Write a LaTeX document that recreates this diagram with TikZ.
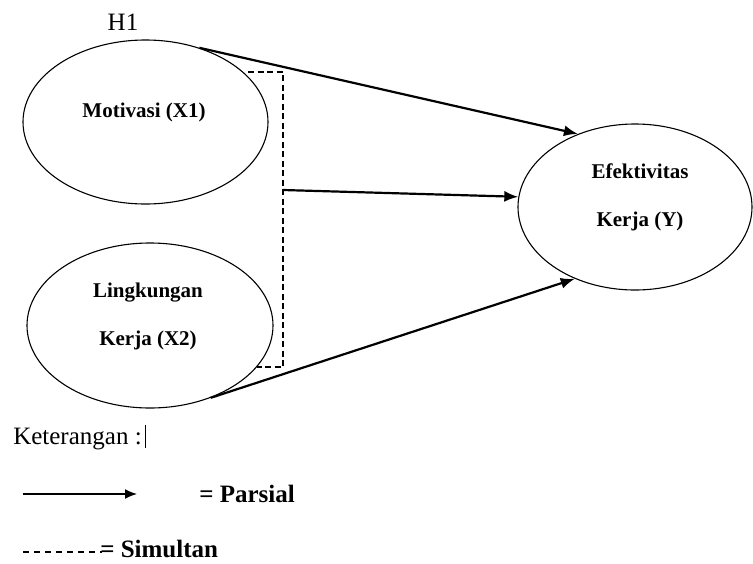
\documentclass[tikz,border=0pt]{standalone}
\usepackage{fontspec}
\setmainfont{Liberation Serif}
\usetikzlibrary{shapes,arrows.meta}

\begin{document}
\begin{tikzpicture}[x=1pt, y=-1pt, semithick, >={Latex[length=14pt,width=11pt]},
  var/.style={draw,ellipse,line width=1.1pt,minimum width=245pt,minimum height=164pt,inner sep=0pt},
  lbl/.style={inner sep=0pt,align=center,font=\fontsize{21}{48}\selectfont\bfseries},
  txt/.style={inner sep=0pt,font=\fontsize{25}{30}\selectfont},
  arr/.style={->,line width=2.2pt},
  simul/.style={dashed,line width=2pt,dash pattern=on 6pt off 3.5pt}]
  \useasboundingbox (0,0) rectangle (753,563);
  \node [var] (x1) at (145.5,122) {};
  \node [var,minimum width=246pt,minimum height=165pt] (x2) at (150,325.5) {};
  \node [var,minimum width=234pt,minimum height=166pt] (y) at (635,207) {};
  \node [lbl,anchor=base] (x1t) at (144,117) {Motivasi (X1)};
  \node [lbl,anchor=base] (x2t) at (148,345) {Lingkungan\\Kerja (X2)};
  \node [lbl,anchor=base] (yt) at (640,226) {Efektivitas\\Kerja (Y)};
  \node [txt,anchor=base] (h1) at (123,30) {H1};
  % simultan bracket
  \coordinate (st) at (248,72);
  \coordinate (sm) at (283,190);
  \coordinate (sb) at (257,367);
  \draw [simul] (st) -- (st -| sm) -- (sb -| sm) -- (sb);
  \path [arr] (x1.54) edge (y.128);
  \path [arr] (sm) edge (y.175);
  \path [arr] (x2.310) edge (y.230);
  % keterangan
  \node [txt,anchor=base west] (ket) at (13,444) {Keterangan :\hspace{3pt}\rule[-4pt]{0.8pt}{23pt}};
  \coordinate (pa) at (23,494);
  \coordinate (pb) at (137,494);
  \draw [->,line width=1.6pt,>={Latex[length=12pt,width=10pt]}] (pa) -- (pb);
  \node [txt,font=\fontsize{25}{30}\selectfont\bfseries,anchor=base west] (par) at (199,502) {= Parsial};
  \coordinate (sa) at (23,552);
  \coordinate (sz) at (102,552);
  \draw [line width=1.2pt,dash pattern=on 6pt off 5pt] (sa) -- (sz);
  \node [txt,font=\fontsize{25}{30}\selectfont\bfseries,anchor=base west] (sim) at (100,557) {= Simultan};
\end{tikzpicture}
\end{document}
